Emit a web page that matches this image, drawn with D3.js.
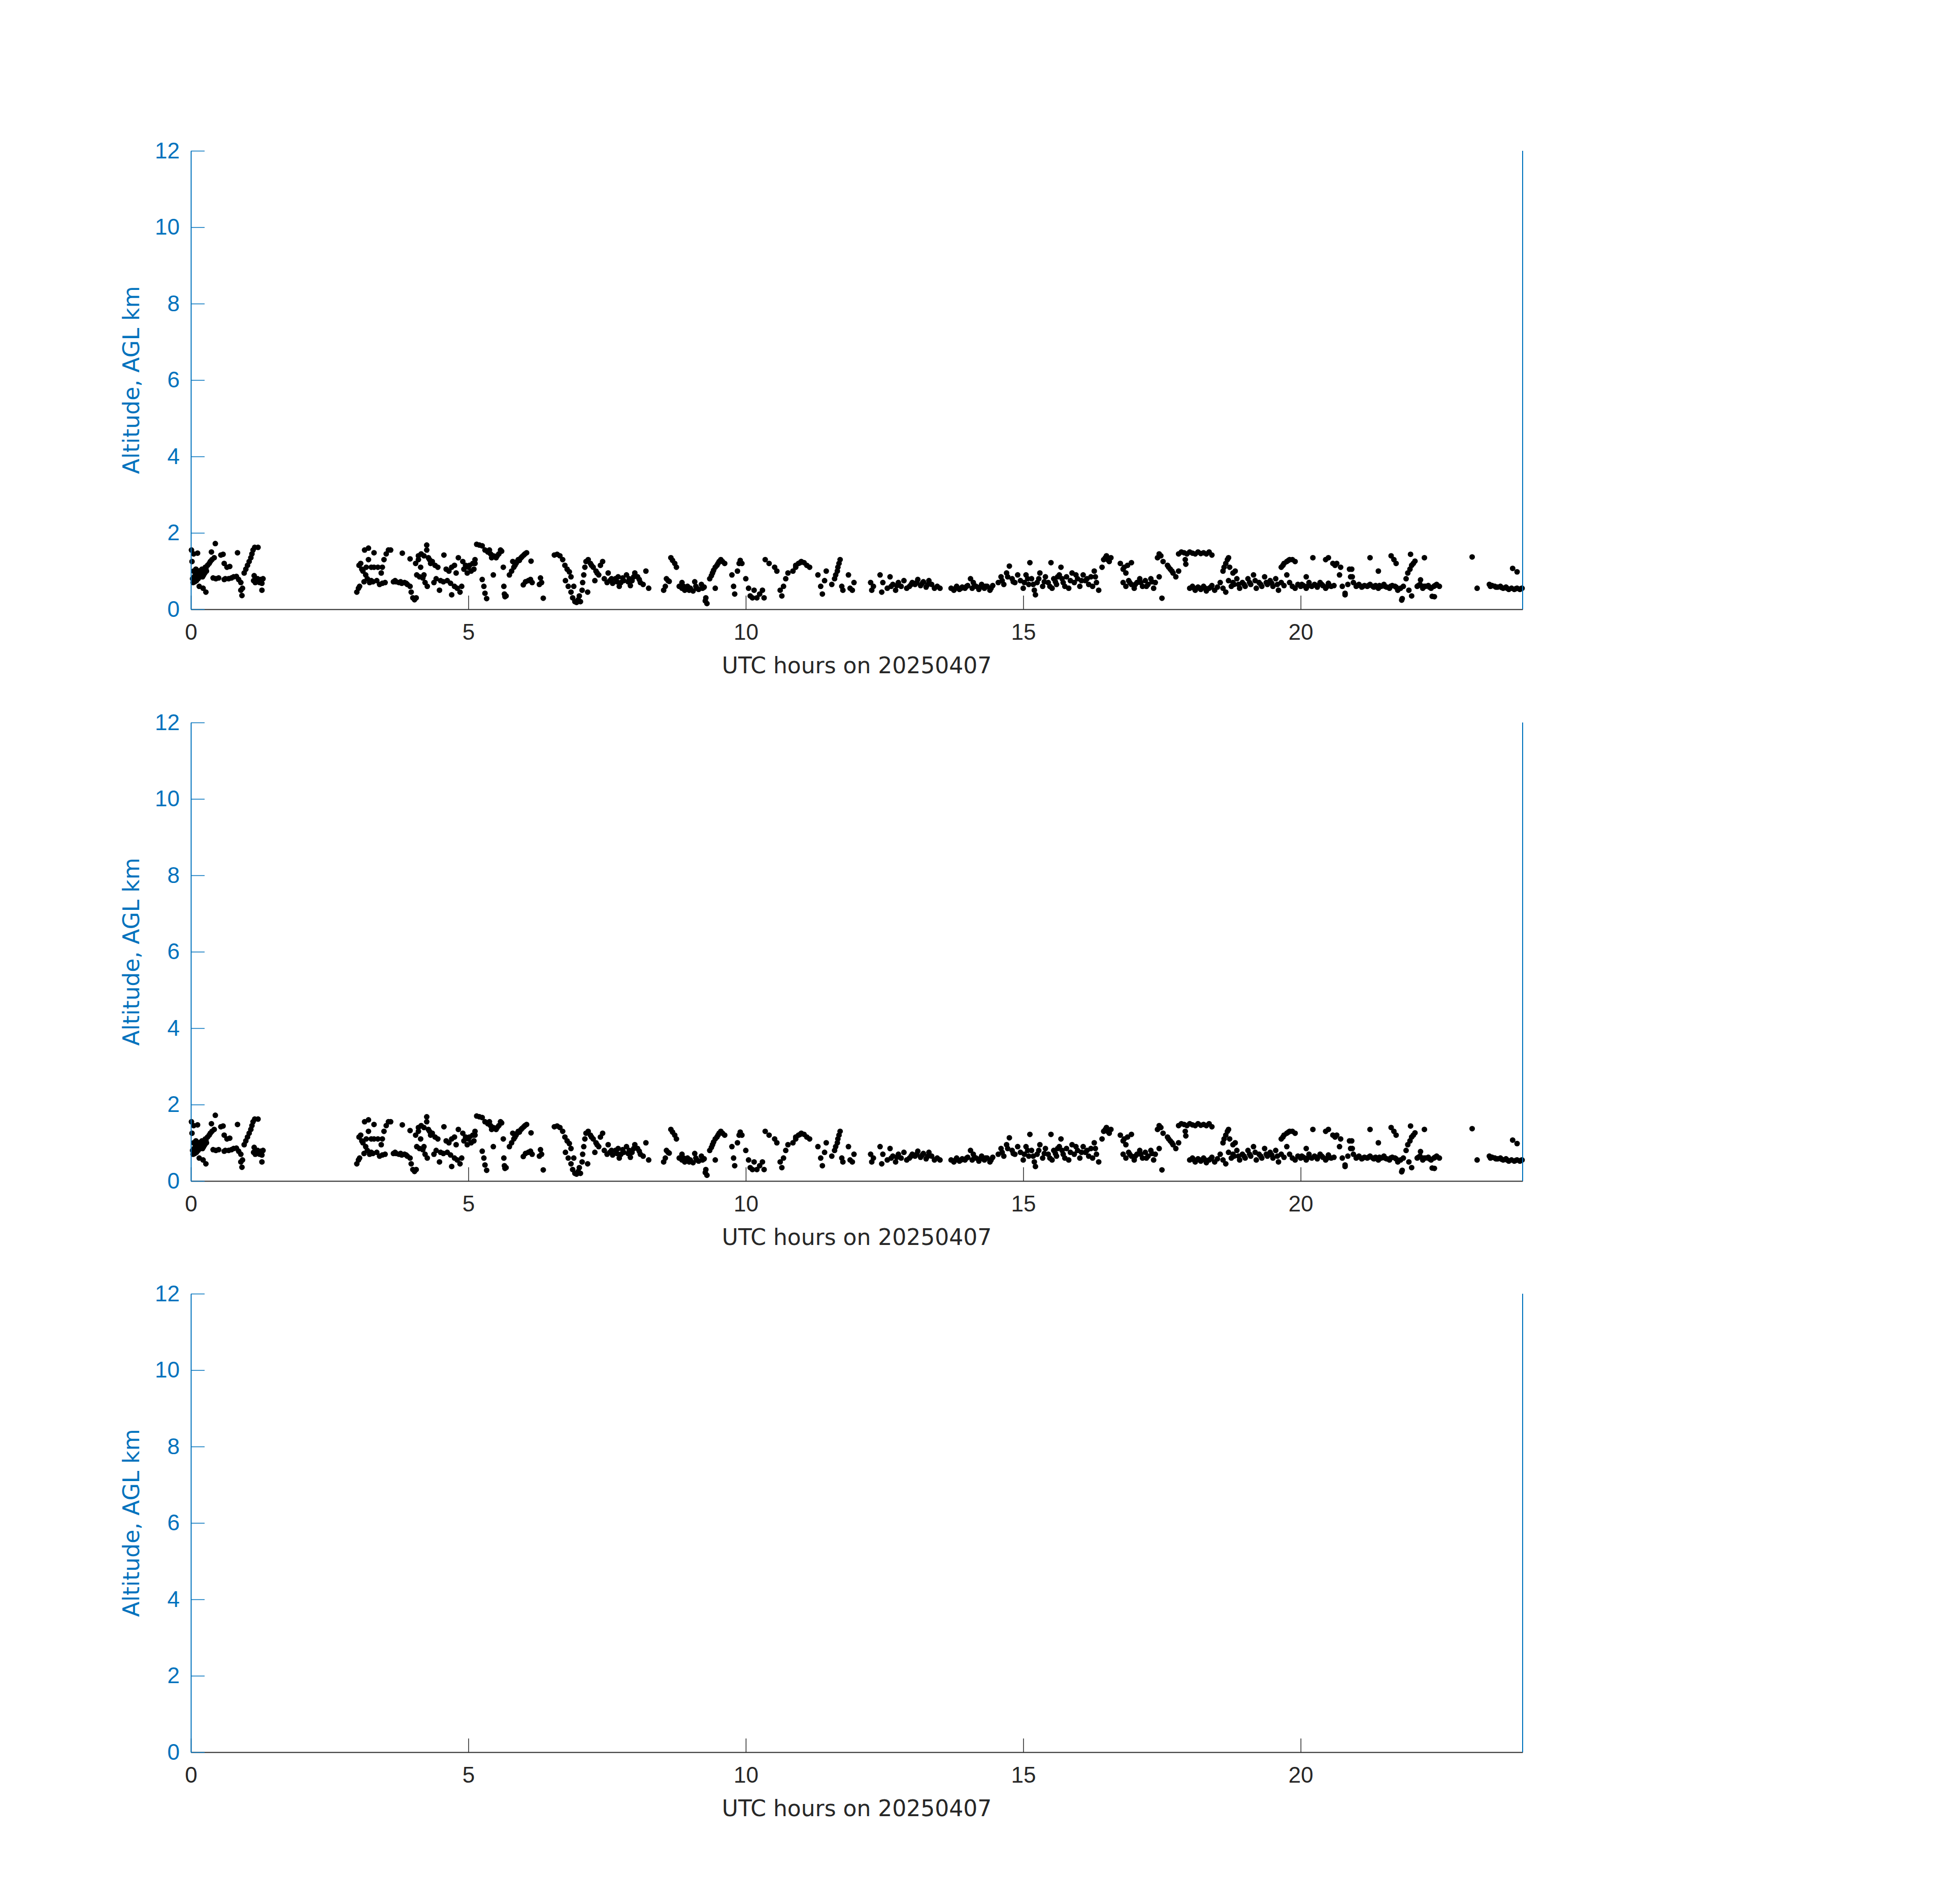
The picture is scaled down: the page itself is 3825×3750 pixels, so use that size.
<!DOCTYPE html>
<html>
<head>
<meta charset="utf-8">
<script src="https://cdn.jsdelivr.net/npm/d3@7"></script>
<style>
  body { margin: 0; background: #fff; }
  svg { display: block; font-family: "DejaVu Sans", sans-serif; }
</style>
</head>
<body>
<svg width="3825" height="3750"></svg>
<script>
// cloud base heights (UTC hour, km AGL)
const earlyHours = [
  [0.01,1.55],[0.02,1.25],[0.05,1.45],[0.03,0.8],[0.04,0.7],[0.06,0.85],[0.07,0.72],[0.08,0.9],[0.1,0.95],[0.1,0.75],
  [0.12,0.88],[0.12,1.47],[0.14,1.0],[0.15,0.6],[0.16,0.95],[0.18,1.02],[0.2,1.05],[0.22,0.98],[0.22,0.55],[0.24,1.05],
  [0.26,1.1],[0.27,0.45],[0.27,1.07],[0.28,1.0],[0.33,1.2],[0.37,1.5],[0.38,1.3],[0.4,0.82],[0.42,1.35],[0.44,1.72],
  [0.45,0.8],[0.5,0.82],[0.54,1.42],[0.58,1.44],[0.6,1.2],[0.62,0.8],[0.65,1.1],[0.7,1.12],[0.73,0.82],[0.77,0.85],
  [0.82,0.86],[0.84,1.48],[0.86,0.78],[0.9,0.7],[0.9,0.5],[0.92,0.36],[0.93,0.55],[0.96,0.95],[0.99,1.05],[1.02,1.15],
  [1.05,1.25],[1.08,1.35],[1.1,1.45],[1.12,1.55],[1.13,0.75],[1.14,0.88],[1.15,1.62],[1.18,0.72],[1.21,1.62],[1.22,0.75],
  [1.26,0.78],[1.28,0.68],[1.28,0.5],[1.3,0.8],
  [0.05,1.0],[0.09,1.05],[0.13,0.8],[0.17,0.85],[0.19,0.9],[0.21,0.85],[0.23,0.9],[0.25,0.95],[0.3,1.15],[0.35,1.25],
  [0.6,0.78],[0.68,0.8],[1.16,0.7],[1.2,0.8],[1.24,0.7]
];

const morningHours = [
  [2.99,0.45],[3.02,0.55],[3.03,1.15],[3.04,0.6],[3.06,1.2],[3.08,1.05],[3.1,1.0],[3.13,1.55],[3.15,0.9],[3.18,0.8],
  [3.2,1.6],[3.2,1.3],[3.22,0.7],[3.25,0.75],[3.25,1.1],[3.3,1.48],[3.3,1.1],[3.35,0.75],[3.37,1.1],[3.4,0.65],
  [3.43,0.95],[3.45,0.68],[3.45,1.1],[3.48,1.3],[3.52,1.45],[3.56,1.55],[3.6,1.55],[3.65,0.72],[3.7,0.72],[3.75,0.7],
  [3.8,0.68],[3.81,1.47],[3.85,0.7],[3.9,0.65],[3.95,0.6],[3.95,1.32],[3.97,0.45],[4.0,0.3],[4.03,0.25],[4.06,0.3],
  [4.05,1.2],[4.07,0.9],[4.1,1.4],[4.12,0.85],[4.15,1.45],[4.18,0.82],[4.2,1.4],[4.22,0.7],[4.25,1.55],[4.25,1.68],
  [4.26,0.6],[4.28,1.35],[4.3,1.3],[4.35,1.25],[4.4,1.15],[4.42,0.8],[4.45,1.1],[4.48,0.5],[4.5,0.75],[4.55,0.72],
  [4.56,1.42],[4.6,1.05],[4.65,1.0],[4.7,1.1],[4.7,0.38],[4.75,1.15],[4.75,0.6],[4.8,0.55],[4.82,1.35],[4.85,0.45],
  [4.88,0.6],[4.9,1.25],[4.95,1.15],[5.0,1.1],[5.05,1.0],[5.1,1.05],[5.12,1.2],[5.12,1.3],[5.15,1.7],[5.2,1.68],
  [5.25,1.66],[5.25,0.78],[5.28,0.6],[5.3,0.42],[5.33,0.28],[5.3,1.55],[5.35,1.5],[5.4,1.45],[5.45,1.4],[5.45,0.9],
  [5.5,1.35],[5.55,1.45],[5.6,1.52],[5.63,1.1],[5.64,0.6],[5.65,0.4],[5.66,0.33],[5.68,0.35],[5.74,0.9],[5.78,1.0],
  [5.8,1.25],[5.82,1.1],[5.86,1.2],[5.9,1.3],[5.95,1.35],[5.99,0.64],[6.0,1.42],[6.03,0.72],[6.05,1.48],[6.08,0.75],
  [6.12,0.78],[6.13,1.26],[6.15,0.7],[6.28,0.65],[6.3,0.82],[6.32,0.7],[6.35,0.29],[6.55,1.42],[6.6,1.44],[6.65,1.4],
  [6.7,1.3],[6.74,1.15],[6.75,0.75],[6.78,1.05],[6.8,0.6],[6.82,0.98],[6.85,0.45],[6.85,0.85],[6.88,0.3],[6.9,0.6],
  [6.92,0.2],[6.95,0.18],[6.98,0.25],[7.0,0.35],[7.02,0.2],[7.05,0.5],[7.06,0.7],[7.08,0.9],[7.1,1.1],[7.12,1.25],
  [7.15,0.45],[7.16,1.3],[7.2,1.2],[7.25,1.1],[7.28,0.75],[7.3,1.0],[7.35,0.9],[7.38,1.15],[7.42,1.25],[7.45,0.8],
  [7.5,0.7],[7.52,0.95],[7.55,0.75],[7.6,0.68],[7.65,0.8],[7.7,0.85],[7.72,0.6],[7.75,0.7],[7.8,0.75],[7.85,0.9],
  [7.9,0.8],[7.92,0.62],[7.95,0.75],[8.0,0.95],[8.05,0.85],[8.1,0.7],[8.15,0.65],[8.2,1.0],[8.25,0.55],
  [3.12,0.72],[3.16,1.1],[3.28,0.72],[3.5,0.7],[3.68,0.75],[3.78,0.72],[3.88,0.68],[4.1,1.3],[4.14,1.1],[4.2,0.9],
  [4.32,1.2],[4.38,0.7],[4.62,0.75],[4.68,0.68],[4.78,0.95],[4.92,1.05],[4.98,0.95],[5.02,1.15],[5.08,1.2],[5.38,1.55],
  [5.42,1.35],[5.52,1.4],[5.58,1.55],[5.84,1.15],[5.88,1.25],[5.92,1.28],[5.97,1.38],[6.02,1.45],[7.22,1.15],[7.32,0.95],
  [7.58,0.8],[7.68,0.72],[7.78,0.82],[7.88,0.72],[7.98,0.85],[8.08,0.78]
];

const middayHours = [
  [8.52,0.5],[8.55,0.6],[8.57,0.8],[8.6,0.75],[8.62,0.73],[8.65,1.35],[8.68,1.28],[8.72,1.2],[8.75,1.1],[8.8,0.6],
  [8.85,0.55],[8.85,0.7],[8.9,0.5],[8.95,0.6],[9.0,0.55],[9.05,0.48],[9.08,0.72],[9.1,0.6],[9.15,0.52],[9.2,0.65],
  [9.25,0.58],[9.27,0.22],[9.28,0.3],[9.3,0.15],[9.35,0.8],[9.4,0.95],[9.45,1.1],[9.45,0.55],[9.5,1.2],[9.55,1.3],
  [9.58,1.25],[9.62,1.2],[9.75,0.9],[9.78,0.6],[9.8,0.4],[9.85,1.0],[9.88,1.2],[9.9,1.28],[9.93,1.2],[10.0,0.8],
  [10.05,0.55],[10.08,0.35],[10.12,0.3],[10.15,0.5],[10.2,0.3],[10.25,0.4],[10.3,0.5],[10.33,0.3],[10.35,1.3],[10.42,1.2],
  [10.52,1.1],[10.56,1.0],[10.62,0.5],[10.65,0.35],[10.68,0.6],[10.72,0.8],[10.76,0.95],[10.85,1.0],[10.9,1.1],[10.95,1.2],
  [11.0,1.25],[11.05,1.22],[11.1,1.15],[11.15,1.1],[11.3,0.9],[11.35,0.6],[11.38,0.4],[11.42,0.75],[11.45,1.0],[11.55,0.65],
  [11.6,0.8],[11.65,1.0],[11.68,1.2],[11.7,1.3],[11.73,0.6],[11.75,0.5],[11.85,0.9],[11.88,0.55],[11.92,0.5],[11.95,0.7],
  [12.25,0.7],[12.27,0.5],[12.3,0.6],[12.42,0.9],[12.45,0.45],[12.47,0.7],[12.55,0.55],[12.6,0.85],[12.65,0.65],[12.7,0.5],
  [12.75,0.7],[12.8,0.6],[12.85,0.75],[12.9,0.55],[12.95,0.6],[13.0,0.7],[13.05,0.65],[13.1,0.78],[13.15,0.62],[13.2,0.72],
  [13.25,0.58],[13.3,0.75],[13.35,0.65],[13.4,0.55],[13.45,0.6],[13.5,0.55],[13.7,0.55],[13.75,0.5],[13.8,0.6],[13.85,0.52],
  [13.9,0.58],[13.95,0.55],[14.0,0.62],[14.05,0.8],[14.08,0.55],[14.1,0.7],[14.15,0.6],[14.2,0.52],[14.25,0.65],[14.3,0.55],
  [14.35,0.6],[14.4,0.5],[14.45,0.62],
  [8.88,0.6],[8.98,0.5],[9.12,0.55],[9.22,0.55],[9.38,0.88],[9.42,1.02],[9.48,1.15],[9.52,1.25],[10.9,1.15],[10.98,1.22],
  [11.62,0.9],[11.66,1.1],[12.62,0.6],[12.72,0.62],[12.98,0.65],[13.08,0.7],[13.18,0.68],[13.28,0.65],[13.78,0.55],[13.88,0.55],
  [13.98,0.6],[14.12,0.62],[14.22,0.58],[14.32,0.6],[14.42,0.55]
];

const afternoonHours = [
  [14.55,0.7],[14.6,0.85],[14.65,0.65],[14.7,0.95],[14.75,1.13],[14.8,0.8],[14.85,0.7],[14.9,0.9],[14.95,0.75],[15.0,0.55],
  [15.05,0.9],[15.1,0.65],[15.12,1.22],[15.15,0.8],[15.2,0.5],[15.22,0.38],[15.25,0.7],[15.3,0.95],[15.35,0.6],[15.4,0.85],
  [15.45,0.7],[15.5,1.22],[15.52,0.55],[15.55,0.8],[15.6,0.65],[15.65,0.9],[15.68,1.1],[15.72,0.7],[15.78,0.85],[15.82,0.55],
  [15.88,0.95],[15.92,0.7],[15.98,0.8],[16.02,0.6],[16.08,0.9],[16.12,0.75],[16.18,0.65],[16.22,0.85],[16.28,1.0],[16.32,0.7],
  [16.36,0.5],[16.42,1.1],[16.45,1.3],[16.5,1.4],[16.55,1.25],[16.58,1.35],[16.75,1.2],[16.8,1.05],[16.8,0.7],[16.85,0.95],
  [16.85,0.6],[16.88,1.15],[16.9,0.75],[16.95,0.65],[16.95,1.22],[17.0,0.55],[17.05,0.7],[17.1,0.8],[17.15,0.6],[17.2,0.75],
  [17.25,0.65],[17.3,0.8],[17.35,0.55],[17.38,0.7],[17.42,1.35],[17.45,1.45],[17.45,0.85],[17.48,1.4],[17.5,0.29],[17.52,1.25],
  [17.6,1.15],[17.65,1.05],[17.7,0.95],[17.75,0.85],[17.8,1.0],[17.8,1.45],[17.85,1.5],[17.9,1.48],[17.92,1.3],[17.93,1.18],
  [17.95,1.45],[18.0,1.5],[18.05,1.47],[18.1,1.45],[18.15,1.5],[18.2,1.46],[18.25,1.48],[18.3,1.45],[18.35,1.5],[18.4,1.42],
  [18.0,0.55],[18.05,0.6],[18.1,0.5],[18.15,0.58],[18.2,0.52],[18.25,0.6],[18.3,0.48],[18.35,0.55],[18.4,0.62],[18.45,0.5],
  [18.5,0.58],[18.55,0.7],[18.6,0.55],[18.6,1.0],[18.65,0.45],[18.65,1.2],[18.7,1.35],[18.7,0.75],[18.72,1.1],[18.75,0.6],
  [18.78,0.95],[18.8,0.65],[18.82,1.0],[18.85,0.8],[18.9,0.55],[18.95,0.7],[19.0,0.6],
  [14.62,0.75],[14.72,0.85],[14.82,0.72],[15.02,0.7],[15.08,0.8],[15.18,0.65],[15.28,0.8],[15.38,0.72],[15.48,0.6],[15.58,0.72],
  [15.62,0.85],[15.7,0.8],[15.75,0.6],[15.85,0.75],[15.95,0.9],[16.05,0.75],[16.15,0.8],[16.25,0.6],[16.3,0.85],[16.48,1.35],
  [16.52,1.3],[16.82,1.1],[16.92,0.7],[17.02,0.65],[17.12,0.7],[17.22,0.6],[17.32,0.72],[17.62,1.1],[17.68,1.0],[18.08,0.55],
  [18.18,0.55],[18.28,0.55],[18.38,0.58],[18.62,1.1],[18.68,1.3],[18.78,0.7],[18.88,0.65],[18.98,0.65]
];

const eveningHours = [
  [19.05,0.8],[19.1,0.65],[19.15,0.9],[19.2,0.55],[19.25,0.7],[19.3,0.6],[19.35,0.85],[19.4,0.65],[19.45,0.75],[19.5,0.6],
  [19.55,0.8],[19.6,0.5],[19.65,0.7],[19.65,1.1],[19.7,0.62],[19.7,1.2],[19.75,0.9],[19.75,1.25],[19.8,0.7],[19.8,1.3],
  [19.85,1.3],[19.85,0.6],[19.9,1.25],[19.9,0.55],[19.95,0.65],[20.0,0.6],[20.05,0.62],[20.1,0.55],[20.1,0.85],[20.15,0.7],
  [20.2,0.6],[20.22,1.35],[20.25,0.65],[20.3,0.58],[20.35,0.7],[20.4,0.62],[20.45,0.55],[20.45,1.3],[20.5,0.68],[20.5,1.35],
  [20.55,0.6],[20.58,1.2],[20.6,0.62],[20.65,1.2],[20.7,0.9],[20.72,1.1],[20.75,0.6],[20.8,0.42],[20.8,0.38],[20.85,0.65],
  [20.88,1.05],[20.9,0.85],[20.92,1.05],[20.93,0.85],[20.95,0.7],[21.0,0.6],[21.05,0.65],[21.1,0.58],[21.15,0.62],[21.2,0.6],
  [21.25,0.65],[21.25,1.35],[21.3,0.6],[21.35,0.62],[21.4,0.55],[21.4,1.0],[21.45,0.6],[21.5,0.65],[21.55,0.58],[21.6,0.55],
  [21.63,1.4],[21.65,0.62],[21.68,1.3],[21.7,0.6],[21.72,1.2],[21.75,0.5],[21.8,0.55],[21.82,0.24],[21.83,0.28],[21.85,0.6],
  [21.9,0.8],[21.93,0.95],[21.95,0.5],[21.97,1.05],[21.98,1.44],[22.0,1.15],[22.0,0.35],[22.03,1.2],[22.06,1.26],[22.1,0.6],
  [22.15,0.65],[22.16,0.77],[22.2,0.55],[22.23,1.35],[22.25,0.6],[22.3,0.62],[22.35,0.55],[22.37,0.34],[22.4,0.6],[22.41,0.33],
  [22.45,0.65],[22.5,0.6],[23.09,1.37],[23.18,0.55],[23.4,0.65],[23.45,0.62],[23.5,0.6],[23.55,0.58],[23.6,0.6],[23.65,0.55],
  [23.7,0.58],[23.75,0.52],[23.8,0.55],[23.82,1.07],[23.85,0.52],[23.9,0.55],[23.9,0.98],[23.95,0.52],[23.99,0.55],
  [19.08,0.7],[19.18,0.75],[19.28,0.65],[19.38,0.7],[19.48,0.68],[19.58,0.65],[19.68,1.15],[19.78,1.28],[20.02,0.65],[20.12,0.6],
  [20.28,0.62],[20.38,0.65],[20.48,0.6],[20.62,1.15],[21.02,0.62],[21.12,0.6],[21.22,0.62],[21.32,0.58],[21.42,0.62],[21.52,0.6],
  [21.62,0.6],[21.72,0.58],[22.12,0.62],[22.22,0.6],[22.32,0.58],[22.42,0.62],[23.42,0.6],[23.52,0.58],[23.62,0.57],[23.72,0.55],
  [23.88,0.54],[23.97,0.54]
];

const cloudBase = [].concat(earlyHours, morningHours, middayHours, afternoonHours, eveningHours);
const panelData = [cloudBase, cloudBase, []];

const xTickValues = [0, 5, 10, 15, 20];
const yTickValues = [0, 2, 4, 6, 8, 10, 12];
const xLabel = "UTC hours on 20250407";
const yLabel = "Altitude, AGL km";

const blue = "#0072bd", grey = "#262626";
const left = 376, width = 2623, height = 903;
const panelTops = [297, 1423, 2548];

const svg = d3.select("svg");
svg.append("rect").attr("width", 3825).attr("height", 3750).attr("fill", "#fff");

const x = d3.scaleLinear().domain([0, 24]).range([0, width]);
const y = d3.scaleLinear().domain([0, 12]).range([height, 0]);

panelData.forEach((pts, i) => {
  const g = svg.append("g").attr("transform", `translate(${left},${panelTops[i]})`);

  // dots
  g.append("g")
    .selectAll("circle")
    .data(pts)
    .join("circle")
    .attr("cx", d => x(d[0]))
    .attr("cy", d => y(d[1]))
    .attr("r", 5.5)
    .attr("fill", "#000");

  // x axis, ticks pointing inward
  const xAxis = g.append("g")
    .attr("transform", `translate(0,${height})`)
    .call(d3.axisBottom(x).tickValues(xTickValues).tickFormat(d3.format("d"))
      .tickSizeInner(-27).tickSizeOuter(0).tickPadding(29));
  xAxis.select(".domain").attr("stroke", grey).attr("stroke-width", 2);
  xAxis.selectAll(".tick line").attr("stroke", grey).attr("stroke-width", 1.5);
  xAxis.selectAll(".tick text").attr("fill", grey).style("font-size", "44px");

  // left y axis
  const yAxis = g.append("g")
    .call(d3.axisLeft(y).tickValues(yTickValues)
      .tickSizeInner(-27).tickSizeOuter(0).tickPadding(22));
  yAxis.select(".domain").attr("stroke", blue).attr("stroke-width", 2);
  yAxis.selectAll(".tick line").attr("stroke", blue).attr("stroke-width", 1.5);
  yAxis.selectAll(".tick text").attr("fill", blue).style("font-size", "44px");

  // right axis line (no ticks)
  g.append("line")
    .attr("x1", width).attr("x2", width)
    .attr("y1", 0).attr("y2", height)
    .attr("stroke", blue).attr("stroke-width", 2);

  g.append("text")
    .attr("x", width / 2)
    .attr("y", height + 126)
    .attr("text-anchor", "middle")
    .attr("fill", grey)
    .style("font-size", "44px")
    .text(xLabel);

  g.append("text")
    .attr("transform", "rotate(-90)")
    .attr("x", -height / 2)
    .attr("y", -102)
    .attr("text-anchor", "middle")
    .attr("fill", blue)
    .style("font-size", "44px")
    .text(yLabel);
});
</script>
</body>
</html>
